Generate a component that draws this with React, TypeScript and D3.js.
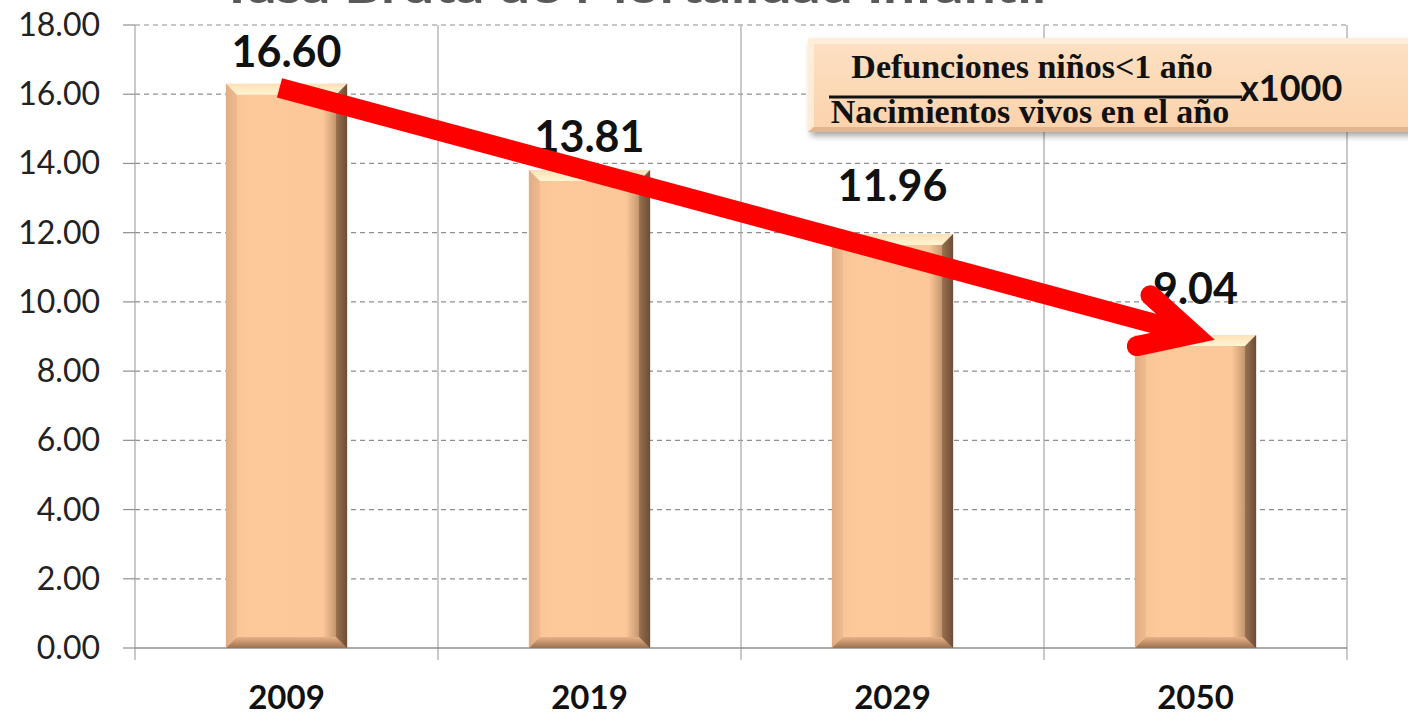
import React, { useEffect, useRef } from 'react';
import * as d3 from 'd3';

// chart data
const categories = ['2009', '2019', '2029', '2050'];
const barValues = [16.3, 13.81, 11.96, 9.04];
const valueLabels = ['16.60', '13.81', '11.96', '9.04'];
const yTicks = [0, 2, 4, 6, 8, 10, 12, 14, 16, 18];
const titleText = 'Tasa Bruta de Mortalidad Infantil';
const formulaTop = 'Defunciones niños<1 año';
const formulaBottom = 'Nacimientos vivos en el año';
const formulaFactor = 'x1000';

// small manual nudges of the value labels (as in the original)
const labelDy = [5, 4, -11, -9];

const W = 1408;
const H = 715;

const App: React.FC = () => {
    const svgRef = useRef<SVGSVGElement>(null);

    useEffect(() => {
        if (!svgRef.current) return;
        const svg = d3.select(svgRef.current);
        svg.selectAll('*').remove();

        const left = 135, right = 1347, top = 25, bottom = 648;

        const x = d3.scaleBand<string>()
            .domain(categories)
            .range([left, right])
            .paddingInner(0.6)
            .paddingOuter(0.3);

        const y = d3.scaleLinear().domain([0, 18]).range([bottom, top]);

        const defs = svg.append('defs');

        // bar face gradient
        const face = defs.append('linearGradient').attr('id', 'barFace')
            .attr('x1', 0).attr('x2', 1).attr('y1', 0).attr('y2', 0);
        face.append('stop').attr('offset', '0%').attr('stop-color', '#e0ad84');
        face.append('stop').attr('offset', '8%').attr('stop-color', '#f8c597');
        face.append('stop').attr('offset', '20%').attr('stop-color', '#fdc99b');
        face.append('stop').attr('offset', '80%').attr('stop-color', '#fcc89a');
        face.append('stop').attr('offset', '90%').attr('stop-color', '#c99a72');
        face.append('stop').attr('offset', '100%').attr('stop-color', '#5e4230');

        const topBevel = defs.append('linearGradient').attr('id', 'barTop')
            .attr('x1', 0).attr('x2', 0).attr('y1', 0).attr('y2', 1);
        topBevel.append('stop').attr('offset', '0%').attr('stop-color', '#fde0b8');
        topBevel.append('stop').attr('offset', '100%').attr('stop-color', '#fff6d2');

        const botBevel = defs.append('linearGradient').attr('id', 'barBot')
            .attr('x1', 0).attr('x2', 0).attr('y1', 0).attr('y2', 1);
        botBevel.append('stop').attr('offset', '0%').attr('stop-color', '#e8b287');
        botBevel.append('stop').attr('offset', '100%').attr('stop-color', '#9c7150');

        const boxFill = defs.append('linearGradient').attr('id', 'boxFill')
            .attr('x1', 0).attr('x2', 0).attr('y1', 0).attr('y2', 1);
        boxFill.append('stop').attr('offset', '0%').attr('stop-color', '#fde1c4');
        boxFill.append('stop').attr('offset', '100%').attr('stop-color', '#fbd2ab');

        const shadow = defs.append('filter').attr('id', 'shadow')
            .attr('x', '-5%').attr('y', '-10%').attr('width', '120%').attr('height', '140%');
        shadow.append('feDropShadow').attr('dx', 3).attr('dy', 4).attr('stdDeviation', 3)
            .attr('flood-color', '#000').attr('flood-opacity', 0.35);

        // title (cut at the top edge, as in the original)
        svg.append('text')
            .attr('x', 220).attr('y', 3)
            .attr('font-family', 'Lato, sans-serif')
            .attr('font-weight', 'bold')
            .attr('font-size', 46)
            .attr('fill', '#595959')
            .attr('textLength', 826)
            .attr('lengthAdjust', 'spacingAndGlyphs')
            .text(titleText);

        // horizontal dashed gridlines
        svg.append('g').selectAll('line').data(yTicks.filter(d => d > 0)).join('line')
            .attr('x1', left).attr('x2', right)
            .attr('y1', d => y(d)).attr('y2', d => y(d))
            .attr('stroke', '#8f8f8f').attr('stroke-width', 1.2)
            .attr('stroke-dasharray', '5,4');

        // vertical gridlines at band edges
        const edges = categories.map(c => (x(c) as number) - x.step() * x.paddingOuter()).concat([right]);
        svg.append('g').selectAll('line').data(edges).join('line')
            .attr('x1', d => d).attr('x2', d => d)
            .attr('y1', top).attr('y2', bottom + 12)
            .attr('stroke', '#a6a6a6').attr('stroke-width', 1.2);

        // y axis ticks and labels
        svg.append('g').selectAll('line').data(yTicks).join('line')
            .attr('x1', left - 12).attr('x2', left)
            .attr('y1', d => y(d)).attr('y2', d => y(d))
            .attr('stroke', '#8f8f8f').attr('stroke-width', 1.2);

        svg.append('g').selectAll('text').data(yTicks).join('text')
            .attr('x', 100)
            .attr('y', d => y(d) + 11)
            .attr('text-anchor', 'end')
            .attr('font-family', 'Lato, sans-serif')
            .attr('font-size', 32)
            .attr('fill', '#222')
            .text(d => d3.format('.2f')(d));

        // x axis baseline
        svg.append('line')
            .attr('x1', left).attr('x2', right)
            .attr('y1', bottom).attr('y2', bottom)
            .attr('stroke', '#8f8f8f').attr('stroke-width', 1.5);

        // bars with bevel
        const bw = x.bandwidth();
        const bev = 11;
        const bars = svg.append('g');
        categories.forEach((c, i) => {
            const x0 = x(c) as number;
            const x1 = x0 + bw;
            const yT = y(barValues[i]);
            const yB = y(0);
            const g = bars.append('g');
            g.append('rect')
                .attr('x', x0).attr('y', yT)
                .attr('width', bw).attr('height', yB - yT)
                .attr('fill', 'url(#barFace)');
            g.append('polygon')
                .attr('points', [[x0, yT], [x1, yT], [x1 - bev, yT + bev], [x0 + bev, yT + bev]].map(p => p.join(',')).join(' '))
                .attr('fill', 'url(#barTop)');
            g.append('polygon')
                .attr('points', [[x0, yB], [x1, yB], [x1 - bev, yB - bev], [x0 + bev, yB - bev]].map(p => p.join(',')).join(' '))
                .attr('fill', 'url(#barBot)');
            g.append('polygon')
                .attr('points', [[x1, yT], [x1, yB], [x1 - bev, yB - bev], [x1 - bev, yT + bev]].map(p => p.join(',')).join(' '))
                .attr('fill', '#7a563d').attr('opacity', 0.55);
            g.append('polygon')
                .attr('points', [[x0, yT], [x0, yB], [x0 + bev, yB - bev], [x0 + bev, yT + bev]].map(p => p.join(',')).join(' '))
                .attr('fill', '#e0ab82').attr('opacity', 0.45);
        });

        // value labels
        svg.append('g').selectAll('text').data(categories).join('text')
            .attr('x', d => (x(d) as number) + bw / 2)
            .attr('y', (_d, i) => y(barValues[i]) - 22 + labelDy[i])
            .attr('text-anchor', 'middle')
            .attr('font-family', 'Lato, sans-serif')
            .attr('font-weight', 'bold')
            .attr('font-size', 43)
            .attr('fill', '#111')
            .text((_d, i) => valueLabels[i]);

        // category labels
        svg.append('g').selectAll('text').data(categories).join('text')
            .attr('x', d => (x(d) as number) + bw / 2)
            .attr('y', 709)
            .attr('text-anchor', 'middle')
            .attr('font-family', 'Lato, sans-serif')
            .attr('font-weight', 'bold')
            .attr('font-size', 33)
            .attr('fill', '#111')
            .text(d => d);

        // formula box
        const box = svg.append('g');
        box.append('rect')
            .attr('x', 808).attr('y', 38).attr('width', 640).attr('height', 94)
            .attr('fill', 'url(#boxFill)')
            .attr('filter', 'url(#shadow)');
        box.append('polygon')
            .attr('points', '808,38 1448,38 1448,44 814,44 814,126 808,132')
            .attr('fill', '#fff1e0').attr('opacity', 0.8);
        box.append('polygon')
            .attr('points', '808,132 1448,132 1448,127 814,127')
            .attr('fill', '#d9b08c').attr('opacity', 0.8);
        box.append('text')
            .attr('x', 1032).attr('y', 78)
            .attr('text-anchor', 'middle')
            .attr('font-family', '"Liberation Serif", serif')
            .attr('font-weight', 'bold')
            .attr('font-size', 34)
            .attr('fill', '#111')
            .text(formulaTop);
        box.append('line')
            .attr('x1', 829).attr('x2', 1242).attr('y1', 97).attr('y2', 97)
            .attr('stroke', '#111').attr('stroke-width', 3);
        box.append('text')
            .attr('x', 1030).attr('y', 123)
            .attr('text-anchor', 'middle')
            .attr('font-family', '"Liberation Serif", serif')
            .attr('font-weight', 'bold')
            .attr('font-size', 34)
            .attr('fill', '#111')
            .text(formulaBottom);
        box.append('text')
            .attr('x', 1240).attr('y', 101)
            .attr('font-family', 'Lato, sans-serif')
            .attr('font-weight', 'bold')
            .attr('font-size', 36)
            .attr('fill', '#111')
            .text(formulaFactor);

        // red trend arrow, from first bar top to last bar top
        const sx = (x(categories[0]) as number) + bw / 2 - 7;
        const sy = y(barValues[0]) + 4;
        const last = categories.length - 1;
        const tx = (x(categories[last]) as number) + bw / 2 - 2;
        const ty = y(barValues[last]) - 1;
        const ang = Math.atan2(ty - sy, tx - sx);
        const armLen = 58;
        const spread = (27 * Math.PI) / 180;
        const arrow = svg.append('g');
        arrow.append('line')
            .attr('x1', sx).attr('y1', sy)
            .attr('x2', tx - 8 * Math.cos(ang)).attr('y2', ty - 8 * Math.sin(ang))
            .attr('stroke', '#ff0000').attr('stroke-width', 20);
        const path = d3.path();
        path.moveTo(tx - armLen * Math.cos(ang - spread), ty - armLen * Math.sin(ang - spread));
        path.lineTo(tx, ty);
        path.lineTo(tx - armLen * Math.cos(ang + spread), ty - armLen * Math.sin(ang + spread));
        arrow.append('path')
            .attr('d', path.toString())
            .attr('fill', 'none')
            .attr('stroke', '#ff0000').attr('stroke-width', 20)
            .attr('stroke-linecap', 'round').attr('stroke-linejoin', 'miter');
    }, []);

    return (
        <svg
            ref={svgRef}
            width={W}
            height={H}
            style={{ position: 'absolute', left: 0, top: 0, background: '#fff' }}
        ></svg>
    );
};

export default App;
